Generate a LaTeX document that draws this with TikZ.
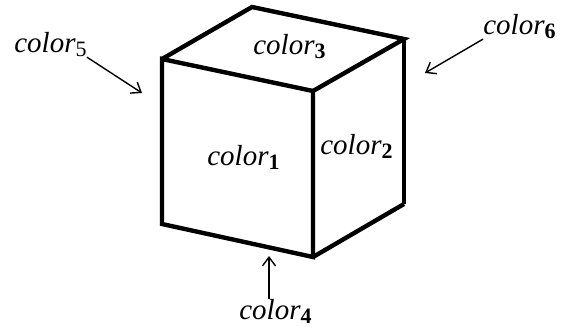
\documentclass[tikz,border=0pt]{standalone}
\usepackage{fontspec}
\setmainfont{Liberation Serif}
\usetikzlibrary{arrows.meta}
\newcommand{\colorbold}[1]{{\itshape color}\raisebox{-2.6pt}{\fontsize{12.5}{13}\selectfont\bfseries #1}}
\newcommand{\colorplain}[1]{{\itshape color}\raisebox{-2.6pt}{\fontsize{12.5}{13}\selectfont #1}}

\begin{document}
\begin{tikzpicture}[x=0.02cm,y=-0.02cm,>={Straight Barb[length=5pt,width=7.5pt]},
  edge/.style={line width=2.5pt,line join=miter},
  pointer/.style={line width=0.8pt,->},
  facelabel/.style={anchor=base west,inner sep=0pt,font=\fontsize{16.5}{18}\selectfont}]
\useasboundingbox (0,0) rectangle (561,332);
% ---------- cube corners ----------
\coordinate (frontTL) at (162,59);
\coordinate (frontTR) at (313,91);
\coordinate (frontBL) at (162,224);
\coordinate (frontBR) at (313,257);
\coordinate (backT) at (252,7);
\coordinate (rightT) at (404,39);
\coordinate (rightB) at (404,204);
% ---------- cube edges ----------
\draw[edge] (frontTL) -- (frontTR) -- (frontBR) -- (frontBL) -- cycle;
\draw[edge] (frontTL) -- (backT) -- (rightT) -- (frontTR);
\draw[edge] (frontBR) -- (rightB);
\draw[line width=2pt] (rightT) -- (rightB);
% ---------- labels on the faces ----------
\node[facelabel] (colorone) at (207,165) {\colorbold{1}};
\node[facelabel] (colortwo) at (320,154) {\colorbold{2}};
\node[facelabel] (colorthree) at (253,54) {\colorbold{3}};
% ---------- labels outside ----------
\node[facelabel] (colorfour) at (239,319) {\colorbold{4}};
\node[facelabel] (colorfive) at (14,52) {\colorplain{5}};
\node[facelabel] (colorsix) at (483,34) {\colorbold{6}};
% ---------- pointers ----------
\coordinate (tipfour) at (269,256);
\coordinate (tipfive) at (142,93);
\coordinate (tipsix) at (425,73);
\draw[pointer] (colorfour.north -| tipfour) -- (tipfour);
\draw[pointer] (colorfive.south east) -- (tipfive);
\draw[pointer] (colorsix.south west) -- (tipsix);
\end{tikzpicture}
\end{document}
